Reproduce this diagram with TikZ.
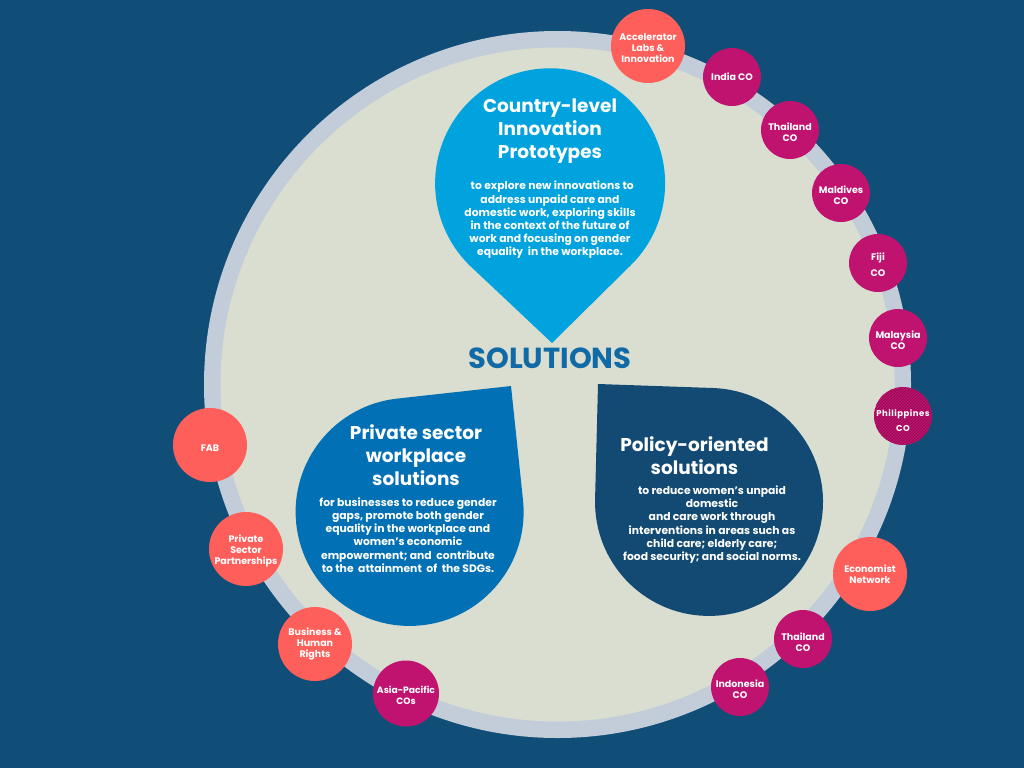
\documentclass[tikz,border=0pt]{standalone}
\usepackage{fontspec}
\usetikzlibrary{patterns}
\setmainfont{Poppins}
\definecolor{bgblue}{HTML}{104E78}
\definecolor{cream}{HTML}{D9DED0}
\definecolor{ringgray}{HTML}{C3CDD9}
\definecolor{topblue}{HTML}{00A3DD}
\definecolor{leftblue}{HTML}{0270B5}
\definecolor{rightblue}{HTML}{124A73}
\definecolor{titleblue}{HTML}{0F6AA6}
\definecolor{coral}{HTML}{FF5F5A}
\definecolor{magentared}{HTML}{C0126F}
\newcommand{\lowstrut}{\rule{0pt}{12pt}}
\tikzset{
  bubble/.style={circle, inner sep=0pt, text=white, align=center,
    font=\fontsize{9.5}{11}\selectfont\bfseries},
  coralbig/.style={bubble, fill=coral, minimum size=74pt},
  magsmall/.style={bubble, fill=magentared, minimum size=58pt},
  headtext/.style={text=white, align=center, font=\fontsize{18.5}{22.7}\selectfont\bfseries},
  bodytext/.style={text=white, align=center, font=\fontsize{10.8}{13.2}\selectfont\bfseries}
}
\begin{document}
\begin{tikzpicture}[
  x=1pt,
  y=-1pt
]
\useasboundingbox (0,0) rectangle (1024,768);

%--------------------
% Fondo
%--------------------
\fill[bgblue] (0,0) rectangle (1024,768);
\fill[ringgray] (557.5,384.5) circle[radius=353.5];
\fill[cream] (557.5,384.5) circle[radius=337];

%--------------------
% Gotas
%--------------------
\fill[topblue] (552,343) -- (630,266) arc[start angle=46, end angle=-226, radius=115] -- cycle;
\fill[leftblue] (511,386) -- (523,500) arc[start angle=-6, end angle=264, radius=114] -- cycle;
\fill[rightblue] (598,384) -- (713,388) arc[start angle=-88, end angle=181.4, radius=114] -- cycle;

%--------------------
% Textos centrales
%--------------------
\node[text=titleblue, font=\fontsize{29}{32}\selectfont\bfseries] (solutions) at (550,358) {SOLUTIONS};
\node[headtext] (tophead) at (550,131) {Country-level\\Innovation\\Prototypes};
\node[bodytext] (topbody) at (550,220) {\ \ to explore new innovations to\\address unpaid care and\\domestic work, exploring skills\\in the context of the future of\\work and focusing on gender\\equality\ \ in the workplace.};
\node[headtext] (lefthead) at (416,455) {Private sector\\workplace\\solutions};
\node[bodytext] (leftbody) at (408,535) {for businesses to reduce gender\\gaps, promote both gender\\equality in the workplace and\\women's economic\\empowerment; and\ \ contribute\\to the\ \ attainment\ \ of\ \ the SDGs.};
\node[headtext] (righthead) at (694.5,456) {Policy-oriented\\solutions};
\node[bodytext] (rightbody) at (712,524.5) {to reduce women's unpaid\\domestic\\and care work through\\interventions in areas such as\\child care; elderly care;\\food security; and social norms.};

%--------------------
% Circulos
%--------------------
\node[coralbig] (accel) at (648,46) {\lowstrut Accelerator\\Labs \&\\Innovation};
\node[magsmall] (india) at (732,77) {India CO};
\node[magsmall] (thaitop) at (790,130) {\lowstrut Thailand\\CO};
\node[magsmall] (maldives) at (841,193) {\lowstrut Maldives\\CO};
\node[magsmall, font=\fontsize{9.5}{16}\selectfont\bfseries] (fiji) at (878,263) {\lowstrut Fiji\\CO};
\node[magsmall] (malaysia) at (898,338) {\lowstrut Malaysia\\CO};
\node[magsmall, postaction={pattern=north east lines, pattern color=magentared!70!black},
  font=\fontsize{8.5}{15}\selectfont\bfseries\addfontfeatures{LetterSpace=6}] (philippines) at (903,416) {\rule{0pt}{16pt}\makebox[0pt]{Philippines}\\CO};
\node[coralbig] (economist) at (870,574) {Economist\\Network};
\node[magsmall] (thaibot) at (803,639) {\rule{0pt}{15pt}Thailand\\CO};
\node[magsmall] (indonesia) at (740,687) {\lowstrut Indonesia\\CO};
\node[magsmall, minimum size=66pt, font=\fontsize{9.2}{11}\selectfont\bfseries] (asia) at (406,693.5) {\lowstrut Asia-Pacific\\COs};
\node[coralbig] (business) at (315,644) {Business \&\\Human\\Rights};
\node[coralbig] (private) at (246,549) {\lowstrut Private\\Sector\\Partnerships};
\node[coralbig] (fab) at (210,445) {\lowstrut FAB};

\end{tikzpicture}
\end{document}
